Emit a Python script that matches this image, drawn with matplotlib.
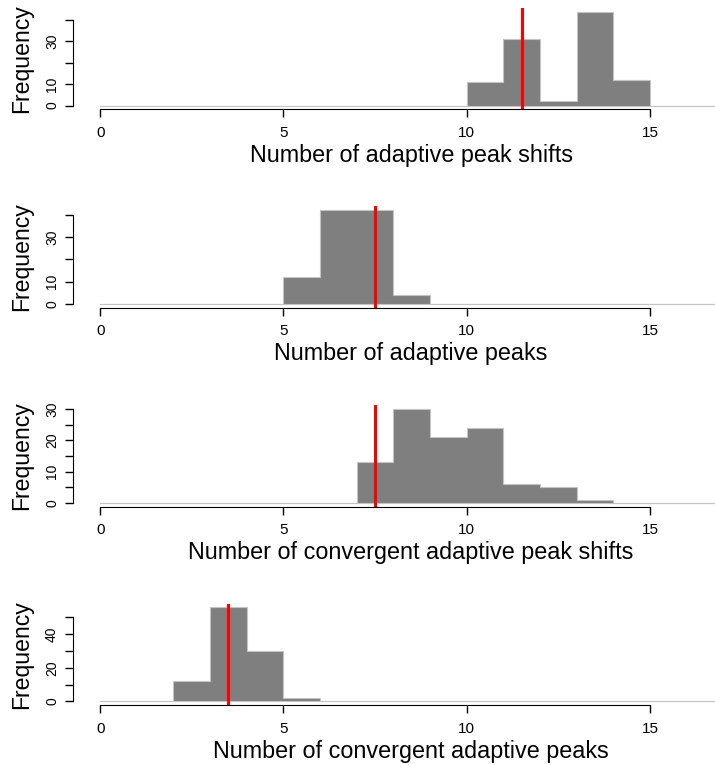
import matplotlib
matplotlib.use('Agg')
import matplotlib.pyplot as plt

plt.rcParams['font.family'] = ['Liberation Sans', 'DejaVu Sans']

# Histogram data (integer bins 0..18)
bin_edges = list(range(0, 19))
bin_mids = [b + 0.5 for b in bin_edges[:-1]]
shift_counts = [0, 0, 0, 0, 0, 0, 0, 0, 0, 0, 11, 31, 2, 44, 12, 0, 0, 0]
peak_counts = [0, 0, 0, 0, 0, 12, 42, 42, 4, 0, 0, 0, 0, 0, 0, 0, 0, 0]
conv_shift_counts = [0, 0, 0, 0, 0, 0, 0, 13, 30, 21, 24, 6, 5, 1, 0, 0, 0, 0]
conv_peak_counts = [0, 0, 12, 56, 30, 2, 0, 0, 0, 0, 0, 0, 0, 0, 0, 0, 0, 0]

medians = [11.5, 7.5, 7.5, 3.5]
xlabels = ['Number of adaptive peak shifts',
           'Number of adaptive peaks',
           'Number of convergent adaptive peak shifts',
           'Number of convergent adaptive peaks']
x_ticks = [0, 5, 10, 15]
y_ticks = [[0, 10, 20, 30, 40], [0, 10, 20, 30, 40],
           [0, 5, 10, 15, 20, 25, 30], [0, 10, 20, 30, 40, 50]]
y_ticklabels = [['0', '10', '', '30', ''], ['0', '10', '', '30', ''],
                ['0', '', '10', '', '20', '', '30'], ['0', '', '20', '', '40', '']]

all_counts = [shift_counts, peak_counts, conv_shift_counts, conv_peak_counts]

W, H = 715, 765
fig = plt.figure(figsize=(W / 100, H / 100), dpi=100)

tops = [7.8, 206.3, 405.3, 603.6]
left_px, width_px, height_px = 73, 676, 101.5

for i, counts in enumerate(all_counts):
    ax = fig.add_axes([left_px / W, 1 - (tops[i] + height_px) / H,
                       width_px / W, height_px / H])
    ax.hist(bin_mids, bins=bin_edges, weights=counts, histtype='stepfilled',
            facecolor='#7F7F7F', edgecolor='#C4C4C4', linewidth=0.8)
    ax.axvline(medians[i], color='red', lw=2.2)

    ymax = max(counts)
    ax.set_xlim(-0.74, 17.7)
    ax.set_ylim(-0.04 * ymax, 1.04 * ymax)

    for s in ['top', 'right']:
        ax.spines[s].set_visible(False)
    ax.spines['bottom'].set_bounds(0, 15)
    ax.spines['left'].set_bounds(0, y_ticks[i][-1])

    ax.set_xticks(x_ticks)
    ax.set_xticklabels([str(t) for t in x_ticks])
    ax.set_yticks(y_ticks[i])
    ax.set_yticklabels(y_ticklabels[i], rotation=90, va='center')
    ax.tick_params(axis='x', length=6, width=1, labelsize=11, pad=6)
    ax.tick_params(axis='y', length=6, width=1, labelsize=10, pad=4)

    ax.set_xlabel(xlabels[i], fontsize=16.8, va='center')
    ax.xaxis.set_label_coords(0.5, -46 / height_px)
    ax.set_ylabel('Frequency', fontsize=16.6, va='center')
    ax.yaxis.set_label_coords(-51 / width_px, 0.5)

plt.savefig('out.png', dpi=100)
